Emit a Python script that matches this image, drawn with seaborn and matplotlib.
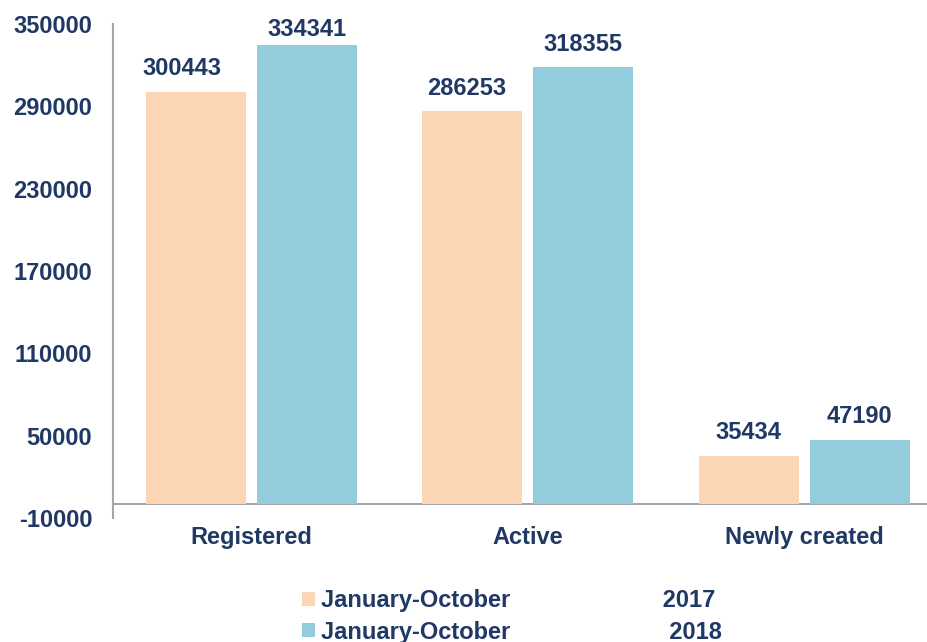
import matplotlib
matplotlib.use("Agg")
import matplotlib.pyplot as plt
import seaborn as sns
import pandas as pd

# chart data
categories = ["Registered", "Active", "Newly created"]
series_names = ["January-October" + " " * 23 + "2017",
                "January-October" + " " * 24 + "2018"]
values_2017 = [300443, 286253, 35434]
values_2018 = [334341, 318355, 47190]
y_ticks = [-10000, 50000, 110000, 170000, 230000, 290000, 350000]

navy = "#1F3864"
colors = ["#FCD5B5", "#93CDDD"]

sns.set_theme(style="white")
plt.rcParams["font.family"] = ["Liberation Sans", "DejaVu Sans"]
plt.rcParams["font.weight"] = "bold"

df = pd.DataFrame({
    "category": categories * 2,
    "series": [series_names[0]] * 3 + [series_names[1]] * 3,
    "value": values_2017 + values_2018,
})

fig = plt.figure(figsize=(9.28, 6.42), dpi=100)
ax = fig.add_axes([113 / 928, 124 / 642, 829.5 / 928, 494 / 642])

sns.barplot(data=df, x="category", y="value", hue="series",
            palette=colors, width=0.803, gap=0.099, saturation=1,
            linewidth=0, edgecolor="none", ax=ax)

# small manual label nudges (px) seen in the original: (dx, dy)
nudge_px = [[(-14, 0), (-5.5, 0), (0, 0)],
            [(0, -7), (0, 0), (0, 0)]]
for i, cont in enumerate(ax.containers):
    anns = ax.bar_label(cont, padding=8.5, fontsize=17, fontweight="bold", color=navy)
    for j, a in enumerate(anns):
        dx, dy = a.xyann
        nx, ny = nudge_px[i][j]
        a.xyann = (dx + nx * 0.72, dy + ny * 0.72)

ax.set_ylim(-10000, 350000)
ax.set_xlim(-0.5, 2.5)
ax.set_yticks(y_ticks)
ax.set_yticklabels([str(t) for t in y_ticks])
ax.set_xlabel("")
ax.set_ylabel("")
ax.tick_params(axis="y", length=0, pad=15, labelsize=17, labelcolor=navy)
ax.tick_params(axis="x", length=0, pad=6, labelsize=17, labelcolor=navy)
for lab in ax.get_xticklabels() + ax.get_yticklabels():
    lab.set_fontweight("bold")

for s in ["top", "right", "bottom"]:
    ax.spines[s].set_visible(False)
ax.spines["left"].set_color("#A6A6A6")
ax.spines["left"].set_linewidth(1.5)
ax.axhline(0, color="#A6A6A6", linewidth=1.5, zorder=0.5)

handles, labels = ax.get_legend_handles_labels()
ax.legend(handles, labels, loc="upper left",
          bbox_to_anchor=(302 / 928, 1 - 589 / 642), bbox_transform=fig.transFigure,
          frameon=False, borderpad=0, borderaxespad=0,
          handlelength=0.55, handleheight=0.55, handletextpad=0.25,
          labelspacing=0.37, prop={"size": 17, "weight": "bold"},
          labelcolor=navy)

fig.savefig("out.png", dpi=100)
